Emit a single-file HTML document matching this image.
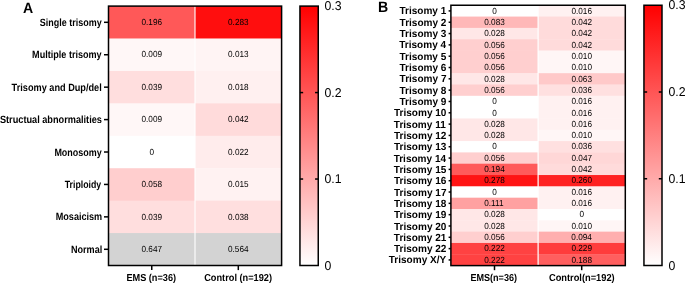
<!DOCTYPE html>
<html><head><meta charset="utf-8"><style>
html,body{margin:0;padding:0;background:#fff;}
body{width:685px;height:284px;overflow:hidden;}
svg{display:block;}
#w{will-change:transform;width:685px;height:284px;}
text{font-family:"Liberation Sans", sans-serif;fill:#000;text-rendering:geometricPrecision;}
.ax{stroke:#000;stroke-width:1.5;}
</style></head><body><div id="w">
<svg width="685" height="284" viewBox="0 0 685 284">
<text transform="translate(22.95,12.80) scale(0.940,1)" style="font-size:15px;font-weight:bold;">A</text>
<text transform="translate(378.06,12.40) scale(0.940,1)" style="font-size:15px;font-weight:bold;">B</text>
<rect x="108.50" y="6.10" width="86.50" height="32.82" fill="#ff5858"/>
<rect x="195.00" y="6.10" width="86.60" height="32.82" fill="#ff0e0e"/>
<rect x="108.50" y="38.52" width="86.50" height="32.82" fill="#fff7f7"/>
<rect x="195.00" y="38.52" width="86.60" height="32.82" fill="#fff4f4"/>
<rect x="108.50" y="70.95" width="86.50" height="32.82" fill="#ffdede"/>
<rect x="195.00" y="70.95" width="86.60" height="32.82" fill="#fff0f0"/>
<rect x="108.50" y="103.37" width="86.50" height="32.82" fill="#fff7f7"/>
<rect x="195.00" y="103.37" width="86.60" height="32.82" fill="#ffdbdb"/>
<rect x="108.50" y="135.80" width="86.50" height="32.82" fill="#ffffff"/>
<rect x="195.00" y="135.80" width="86.60" height="32.82" fill="#ffecec"/>
<rect x="108.50" y="168.22" width="86.50" height="32.82" fill="#ffcece"/>
<rect x="195.00" y="168.22" width="86.60" height="32.82" fill="#fff2f2"/>
<rect x="108.50" y="200.65" width="86.50" height="32.82" fill="#ffdede"/>
<rect x="195.00" y="200.65" width="86.60" height="32.82" fill="#ffdfdf"/>
<rect x="108.50" y="233.07" width="86.50" height="32.82" fill="#d3d3d3"/>
<rect x="195.00" y="233.07" width="86.60" height="32.82" fill="#d3d3d3"/>
<rect x="194.45" y="6.10" width="1.10" height="259.40" fill="#fff"/>
<text transform="translate(141.48,25.06) scale(0.935,1)" style="font-size:8.8px;fill:#000;">0.196</text>
<text transform="translate(228.03,25.06) scale(0.935,1)" style="font-size:8.8px;fill:#000;">0.283</text>
<text transform="translate(39.84,25.81) scale(0.854,1)" style="font-size:10.5px;font-weight:bold;">Single trisomy</text>
<line x1="104.00" x2="108.50" y1="22.31" y2="22.31" class="ax"/>
<text transform="translate(141.49,57.49) scale(0.935,1)" style="font-size:8.8px;fill:#000;">0.009</text>
<text transform="translate(228.03,57.49) scale(0.935,1)" style="font-size:8.8px;fill:#000;">0.013</text>
<text transform="translate(32.09,58.24) scale(0.864,1)" style="font-size:10.5px;font-weight:bold;">Multiple trisomy</text>
<line x1="104.00" x2="108.50" y1="54.74" y2="54.74" class="ax"/>
<text transform="translate(141.49,89.91) scale(0.935,1)" style="font-size:8.8px;fill:#000;">0.039</text>
<text transform="translate(228.02,89.91) scale(0.935,1)" style="font-size:8.8px;fill:#000;">0.018</text>
<text transform="translate(11.60,90.66) scale(0.873,1)" style="font-size:10.5px;font-weight:bold;">Trisomy and Dup/del</text>
<line x1="104.00" x2="108.50" y1="87.16" y2="87.16" class="ax"/>
<text transform="translate(141.49,122.34) scale(0.935,1)" style="font-size:8.8px;fill:#000;">0.009</text>
<text transform="translate(228.05,122.34) scale(0.935,1)" style="font-size:8.8px;fill:#000;">0.042</text>
<text transform="translate(-0.06,123.09) scale(0.874,1)" style="font-size:10.5px;font-weight:bold;">Structual abnormalities</text>
<line x1="104.00" x2="108.50" y1="119.59" y2="119.59" class="ax"/>
<text transform="translate(149.46,154.76) scale(0.935,1)" style="font-size:8.8px;fill:#000;">0</text>
<text transform="translate(228.05,154.76) scale(0.935,1)" style="font-size:8.8px;fill:#000;">0.022</text>
<text transform="translate(54.40,155.51) scale(0.853,1)" style="font-size:10.5px;font-weight:bold;">Monosomy</text>
<line x1="104.00" x2="108.50" y1="152.01" y2="152.01" class="ax"/>
<text transform="translate(141.47,187.19) scale(0.935,1)" style="font-size:8.8px;fill:#000;">0.058</text>
<text transform="translate(228.02,187.19) scale(0.935,1)" style="font-size:8.8px;fill:#000;">0.015</text>
<text transform="translate(64.70,187.94) scale(0.833,1)" style="font-size:10.5px;font-weight:bold;">Triploidy</text>
<line x1="104.00" x2="108.50" y1="184.44" y2="184.44" class="ax"/>
<text transform="translate(141.49,219.61) scale(0.935,1)" style="font-size:8.8px;fill:#000;">0.039</text>
<text transform="translate(228.02,219.61) scale(0.935,1)" style="font-size:8.8px;fill:#000;">0.038</text>
<text transform="translate(55.69,220.36) scale(0.866,1)" style="font-size:10.5px;font-weight:bold;">Mosaicism</text>
<line x1="104.00" x2="108.50" y1="216.86" y2="216.86" class="ax"/>
<text transform="translate(141.50,252.04) scale(0.935,1)" style="font-size:8.8px;fill:#000;">0.647</text>
<text transform="translate(227.96,252.04) scale(0.935,1)" style="font-size:8.8px;fill:#000;">0.564</text>
<text transform="translate(70.99,252.79) scale(0.864,1)" style="font-size:10.5px;font-weight:bold;">Normal</text>
<line x1="104.00" x2="108.50" y1="249.29" y2="249.29" class="ax"/>
<rect x="108.50" y="6.10" width="173.10" height="259.40" fill="none" class="ax"/>
<line x1="151.75" x2="151.75" y1="265.50" y2="270.10" class="ax"/>
<text transform="translate(126.39,280.90) scale(0.908,1)" style="font-size:10.1px;font-weight:bold;">EMS (n=36)</text>
<line x1="238.30" x2="238.30" y1="265.50" y2="270.10" class="ax"/>
<text transform="translate(204.22,280.90) scale(0.912,1)" style="font-size:10.1px;font-weight:bold;">Control (n=192)</text>
<rect x="450.90" y="5.25" width="87.20" height="11.72" fill="#ffffff"/>
<rect x="538.10" y="5.25" width="87.20" height="11.72" fill="#fff1f1"/>
<rect x="450.90" y="16.57" width="87.20" height="11.72" fill="#ffb8b8"/>
<rect x="538.10" y="16.57" width="87.20" height="11.72" fill="#ffdbdb"/>
<rect x="450.90" y="27.89" width="87.20" height="11.72" fill="#ffe7e7"/>
<rect x="538.10" y="27.89" width="87.20" height="11.72" fill="#ffdbdb"/>
<rect x="450.90" y="39.21" width="87.20" height="11.72" fill="#ffcfcf"/>
<rect x="538.10" y="39.21" width="87.20" height="11.72" fill="#ffdbdb"/>
<rect x="450.90" y="50.53" width="87.20" height="11.72" fill="#ffcfcf"/>
<rect x="538.10" y="50.53" width="87.20" height="11.72" fill="#fff6f6"/>
<rect x="450.90" y="61.85" width="87.20" height="11.72" fill="#ffcfcf"/>
<rect x="538.10" y="61.85" width="87.20" height="11.72" fill="#fff6f6"/>
<rect x="450.90" y="73.17" width="87.20" height="11.72" fill="#ffe7e7"/>
<rect x="538.10" y="73.17" width="87.20" height="11.72" fill="#ffc9c9"/>
<rect x="450.90" y="84.49" width="87.20" height="11.72" fill="#ffcfcf"/>
<rect x="538.10" y="84.49" width="87.20" height="11.72" fill="#ffe0e0"/>
<rect x="450.90" y="95.81" width="87.20" height="11.72" fill="#ffffff"/>
<rect x="538.10" y="95.81" width="87.20" height="11.72" fill="#fff1f1"/>
<rect x="450.90" y="107.13" width="87.20" height="11.72" fill="#ffffff"/>
<rect x="538.10" y="107.13" width="87.20" height="11.72" fill="#fff1f1"/>
<rect x="450.90" y="118.45" width="87.20" height="11.72" fill="#ffe7e7"/>
<rect x="538.10" y="118.45" width="87.20" height="11.72" fill="#fff1f1"/>
<rect x="450.90" y="129.77" width="87.20" height="11.72" fill="#ffe7e7"/>
<rect x="538.10" y="129.77" width="87.20" height="11.72" fill="#fff6f6"/>
<rect x="450.90" y="141.08" width="87.20" height="11.72" fill="#ffffff"/>
<rect x="538.10" y="141.08" width="87.20" height="11.72" fill="#ffe0e0"/>
<rect x="450.90" y="152.40" width="87.20" height="11.72" fill="#ffcfcf"/>
<rect x="538.10" y="152.40" width="87.20" height="11.72" fill="#ffd7d7"/>
<rect x="450.90" y="163.72" width="87.20" height="11.72" fill="#ff5a5a"/>
<rect x="538.10" y="163.72" width="87.20" height="11.72" fill="#ffdbdb"/>
<rect x="450.90" y="175.04" width="87.20" height="11.72" fill="#ff1313"/>
<rect x="538.10" y="175.04" width="87.20" height="11.72" fill="#ff2222"/>
<rect x="450.90" y="186.36" width="87.20" height="11.72" fill="#ffffff"/>
<rect x="538.10" y="186.36" width="87.20" height="11.72" fill="#fff1f1"/>
<rect x="450.90" y="197.68" width="87.20" height="11.72" fill="#ffa1a1"/>
<rect x="538.10" y="197.68" width="87.20" height="11.72" fill="#fff1f1"/>
<rect x="450.90" y="209.00" width="87.20" height="11.72" fill="#ffe7e7"/>
<rect x="538.10" y="209.00" width="87.20" height="11.72" fill="#ffffff"/>
<rect x="450.90" y="220.32" width="87.20" height="11.72" fill="#ffe7e7"/>
<rect x="538.10" y="220.32" width="87.20" height="11.72" fill="#fff6f6"/>
<rect x="450.90" y="231.64" width="87.20" height="11.72" fill="#ffcfcf"/>
<rect x="538.10" y="231.64" width="87.20" height="11.72" fill="#ffafaf"/>
<rect x="450.90" y="242.96" width="87.20" height="11.72" fill="#ff4242"/>
<rect x="538.10" y="242.96" width="87.20" height="11.72" fill="#ff3c3c"/>
<rect x="450.90" y="254.28" width="87.20" height="11.72" fill="#ff4242"/>
<rect x="538.10" y="254.28" width="87.20" height="11.72" fill="#ff5f5f"/>
<rect x="537.50" y="5.25" width="1.20" height="260.35" fill="#fff"/>
<text transform="translate(492.21,13.66) scale(0.935,1)" style="font-size:8.8px;fill:#000;">0</text>
<text transform="translate(571.43,13.66) scale(0.935,1)" style="font-size:8.8px;fill:#000;">0.016</text>
<text transform="translate(399.44,14.46) scale(0.975,1)" style="font-size:10.3px;font-weight:bold;">Trisomy 1</text>
<line x1="448.60" x2="450.90" y1="10.91" y2="10.91" class="ax"/>
<text transform="translate(484.23,24.98) scale(0.935,1)" style="font-size:8.8px;fill:#000;">0.083</text>
<text transform="translate(571.45,24.98) scale(0.935,1)" style="font-size:8.8px;fill:#000;">0.042</text>
<text transform="translate(399.56,25.78) scale(0.975,1)" style="font-size:10.3px;font-weight:bold;">Trisomy 2</text>
<line x1="448.60" x2="450.90" y1="22.23" y2="22.23" class="ax"/>
<text transform="translate(484.22,36.30) scale(0.935,1)" style="font-size:8.8px;fill:#000;">0.028</text>
<text transform="translate(571.45,36.30) scale(0.935,1)" style="font-size:8.8px;fill:#000;">0.042</text>
<text transform="translate(399.52,37.10) scale(0.975,1)" style="font-size:10.3px;font-weight:bold;">Trisomy 3</text>
<line x1="448.60" x2="450.90" y1="33.55" y2="33.55" class="ax"/>
<text transform="translate(484.23,47.62) scale(0.935,1)" style="font-size:8.8px;fill:#000;">0.056</text>
<text transform="translate(571.45,47.62) scale(0.935,1)" style="font-size:8.8px;fill:#000;">0.042</text>
<text transform="translate(399.21,48.42) scale(0.975,1)" style="font-size:10.3px;font-weight:bold;">Trisomy 4</text>
<line x1="448.60" x2="450.90" y1="44.87" y2="44.87" class="ax"/>
<text transform="translate(484.23,58.94) scale(0.935,1)" style="font-size:8.8px;fill:#000;">0.056</text>
<text transform="translate(571.40,58.94) scale(0.935,1)" style="font-size:8.8px;fill:#000;">0.010</text>
<text transform="translate(399.44,59.74) scale(0.975,1)" style="font-size:10.3px;font-weight:bold;">Trisomy 5</text>
<line x1="448.60" x2="450.90" y1="56.19" y2="56.19" class="ax"/>
<text transform="translate(484.23,70.26) scale(0.935,1)" style="font-size:8.8px;fill:#000;">0.056</text>
<text transform="translate(571.40,70.26) scale(0.935,1)" style="font-size:8.8px;fill:#000;">0.010</text>
<text transform="translate(399.52,71.06) scale(0.975,1)" style="font-size:10.3px;font-weight:bold;">Trisomy 6</text>
<line x1="448.60" x2="450.90" y1="67.51" y2="67.51" class="ax"/>
<text transform="translate(484.22,81.58) scale(0.935,1)" style="font-size:8.8px;fill:#000;">0.028</text>
<text transform="translate(571.43,81.58) scale(0.935,1)" style="font-size:8.8px;fill:#000;">0.063</text>
<text transform="translate(399.60,82.38) scale(0.975,1)" style="font-size:10.3px;font-weight:bold;">Trisomy 7</text>
<line x1="448.60" x2="450.90" y1="78.83" y2="78.83" class="ax"/>
<text transform="translate(484.23,92.90) scale(0.935,1)" style="font-size:8.8px;fill:#000;">0.056</text>
<text transform="translate(571.43,92.90) scale(0.935,1)" style="font-size:8.8px;fill:#000;">0.036</text>
<text transform="translate(399.47,93.70) scale(0.975,1)" style="font-size:10.3px;font-weight:bold;">Trisomy 8</text>
<line x1="448.60" x2="450.90" y1="90.15" y2="90.15" class="ax"/>
<text transform="translate(492.21,104.22) scale(0.935,1)" style="font-size:8.8px;fill:#000;">0</text>
<text transform="translate(571.43,104.22) scale(0.935,1)" style="font-size:8.8px;fill:#000;">0.016</text>
<text transform="translate(399.53,105.02) scale(0.975,1)" style="font-size:10.3px;font-weight:bold;">Trisomy 9</text>
<line x1="448.60" x2="450.90" y1="101.47" y2="101.47" class="ax"/>
<text transform="translate(492.21,115.54) scale(0.935,1)" style="font-size:8.8px;fill:#000;">0</text>
<text transform="translate(571.43,115.54) scale(0.935,1)" style="font-size:8.8px;fill:#000;">0.016</text>
<text transform="translate(393.98,116.34) scale(0.975,1)" style="font-size:10.3px;font-weight:bold;">Trisomy 10</text>
<line x1="448.60" x2="450.90" y1="112.79" y2="112.79" class="ax"/>
<text transform="translate(484.22,126.86) scale(0.935,1)" style="font-size:8.8px;fill:#000;">0.028</text>
<text transform="translate(571.43,126.86) scale(0.935,1)" style="font-size:8.8px;fill:#000;">0.016</text>
<text transform="translate(393.85,127.66) scale(0.975,1)" style="font-size:10.3px;font-weight:bold;">Trisomy 11</text>
<line x1="448.60" x2="450.90" y1="124.11" y2="124.11" class="ax"/>
<text transform="translate(484.22,138.18) scale(0.935,1)" style="font-size:8.8px;fill:#000;">0.028</text>
<text transform="translate(571.40,138.18) scale(0.935,1)" style="font-size:8.8px;fill:#000;">0.010</text>
<text transform="translate(393.97,138.98) scale(0.975,1)" style="font-size:10.3px;font-weight:bold;">Trisomy 12</text>
<line x1="448.60" x2="450.90" y1="135.43" y2="135.43" class="ax"/>
<text transform="translate(492.21,149.49) scale(0.935,1)" style="font-size:8.8px;fill:#000;">0</text>
<text transform="translate(571.43,149.49) scale(0.935,1)" style="font-size:8.8px;fill:#000;">0.036</text>
<text transform="translate(393.94,150.29) scale(0.975,1)" style="font-size:10.3px;font-weight:bold;">Trisomy 13</text>
<line x1="448.60" x2="450.90" y1="146.74" y2="146.74" class="ax"/>
<text transform="translate(484.23,160.81) scale(0.935,1)" style="font-size:8.8px;fill:#000;">0.056</text>
<text transform="translate(571.45,160.81) scale(0.935,1)" style="font-size:8.8px;fill:#000;">0.047</text>
<text transform="translate(393.63,161.61) scale(0.975,1)" style="font-size:10.3px;font-weight:bold;">Trisomy 14</text>
<line x1="448.60" x2="450.90" y1="158.06" y2="158.06" class="ax"/>
<text transform="translate(484.16,172.13) scale(0.935,1)" style="font-size:8.8px;fill:#000;">0.194</text>
<text transform="translate(571.45,172.13) scale(0.935,1)" style="font-size:8.8px;fill:#000;">0.042</text>
<text transform="translate(393.85,172.93) scale(0.975,1)" style="font-size:10.3px;font-weight:bold;">Trisomy 15</text>
<line x1="448.60" x2="450.90" y1="169.38" y2="169.38" class="ax"/>
<text transform="translate(484.22,183.45) scale(0.935,1)" style="font-size:8.8px;fill:#000;">0.278</text>
<text transform="translate(571.40,183.45) scale(0.935,1)" style="font-size:8.8px;fill:#000;">0.260</text>
<text transform="translate(393.94,184.25) scale(0.975,1)" style="font-size:10.3px;font-weight:bold;">Trisomy 16</text>
<line x1="448.60" x2="450.90" y1="180.70" y2="180.70" class="ax"/>
<text transform="translate(492.21,194.77) scale(0.935,1)" style="font-size:8.8px;fill:#000;">0</text>
<text transform="translate(571.43,194.77) scale(0.935,1)" style="font-size:8.8px;fill:#000;">0.016</text>
<text transform="translate(394.01,195.57) scale(0.975,1)" style="font-size:10.3px;font-weight:bold;">Trisomy 17</text>
<line x1="448.60" x2="450.90" y1="192.02" y2="192.02" class="ax"/>
<text transform="translate(484.25,206.09) scale(0.935,1)" style="font-size:8.8px;fill:#000;">0.111</text>
<text transform="translate(571.43,206.09) scale(0.935,1)" style="font-size:8.8px;fill:#000;">0.016</text>
<text transform="translate(393.88,206.89) scale(0.975,1)" style="font-size:10.3px;font-weight:bold;">Trisomy 18</text>
<line x1="448.60" x2="450.90" y1="203.34" y2="203.34" class="ax"/>
<text transform="translate(484.22,217.41) scale(0.935,1)" style="font-size:8.8px;fill:#000;">0.028</text>
<text transform="translate(579.41,217.41) scale(0.935,1)" style="font-size:8.8px;fill:#000;">0</text>
<text transform="translate(393.95,218.21) scale(0.975,1)" style="font-size:10.3px;font-weight:bold;">Trisomy 19</text>
<line x1="448.60" x2="450.90" y1="214.66" y2="214.66" class="ax"/>
<text transform="translate(484.22,228.73) scale(0.935,1)" style="font-size:8.8px;fill:#000;">0.028</text>
<text transform="translate(571.40,228.73) scale(0.935,1)" style="font-size:8.8px;fill:#000;">0.010</text>
<text transform="translate(393.98,229.53) scale(0.975,1)" style="font-size:10.3px;font-weight:bold;">Trisomy 20</text>
<line x1="448.60" x2="450.90" y1="225.98" y2="225.98" class="ax"/>
<text transform="translate(484.23,240.05) scale(0.935,1)" style="font-size:8.8px;fill:#000;">0.056</text>
<text transform="translate(571.36,240.05) scale(0.935,1)" style="font-size:8.8px;fill:#000;">0.094</text>
<text transform="translate(393.85,240.85) scale(0.975,1)" style="font-size:10.3px;font-weight:bold;">Trisomy 21</text>
<line x1="448.60" x2="450.90" y1="237.30" y2="237.30" class="ax"/>
<text transform="translate(484.25,251.37) scale(0.935,1)" style="font-size:8.8px;fill:#000;">0.222</text>
<text transform="translate(571.44,251.37) scale(0.935,1)" style="font-size:8.8px;fill:#000;">0.229</text>
<text transform="translate(393.97,252.17) scale(0.975,1)" style="font-size:10.3px;font-weight:bold;">Trisomy 22</text>
<line x1="448.60" x2="450.90" y1="248.62" y2="248.62" class="ax"/>
<text transform="translate(484.25,262.69) scale(0.935,1)" style="font-size:8.8px;fill:#000;">0.222</text>
<text transform="translate(571.42,262.69) scale(0.935,1)" style="font-size:8.8px;fill:#000;">0.188</text>
<text transform="translate(388.72,263.49) scale(0.975,1)" style="font-size:10.3px;font-weight:bold;">Trisomy X/Y</text>
<line x1="448.60" x2="450.90" y1="259.94" y2="259.94" class="ax"/>
<rect x="450.90" y="5.25" width="174.40" height="260.35" fill="none" class="ax"/>
<line x1="494.50" x2="494.50" y1="265.60" y2="270.20" class="ax"/>
<text transform="translate(470.44,281.00) scale(0.897,1)" style="font-size:10.1px;font-weight:bold;">EMS(n=36)</text>
<line x1="581.70" x2="581.70" y1="265.60" y2="270.20" class="ax"/>
<text transform="translate(548.97,281.00) scale(0.919,1)" style="font-size:10.1px;font-weight:bold;">Control(n=192)</text>
<linearGradient id="gA" x1="0" y1="1" x2="0" y2="0"><stop offset="0" stop-color="#fff"/><stop offset="1" stop-color="#f00"/></linearGradient>
<rect x="299.95" y="6.10" width="18.30" height="259.40" fill="url(#gA)" class="ax"/>
<text transform="translate(324.52,10.40) scale(0.960,1)" style="font-size:12.8px;">0.3</text>
<line x1="299.95" x2="303.15" y1="92.57" y2="92.57" class="ax"/>
<line x1="315.05" x2="318.25" y1="92.57" y2="92.57" class="ax"/>
<text transform="translate(324.52,96.87) scale(0.960,1)" style="font-size:12.8px;">0.2</text>
<line x1="299.95" x2="303.15" y1="179.03" y2="179.03" class="ax"/>
<line x1="315.05" x2="318.25" y1="179.03" y2="179.03" class="ax"/>
<text transform="translate(324.52,183.33) scale(0.960,1)" style="font-size:12.8px;">0.1</text>
<text transform="translate(324.52,269.80) scale(0.960,1)" style="font-size:12.8px;">0</text>
<linearGradient id="gB" x1="0" y1="1" x2="0" y2="0"><stop offset="0" stop-color="#fff"/><stop offset="1" stop-color="#f00"/></linearGradient>
<rect x="643.95" y="5.25" width="18.05" height="260.25" fill="url(#gB)" class="ax"/>
<text transform="translate(668.52,9.35) scale(0.960,1)" style="font-size:12.8px;">0.3</text>
<line x1="643.95" x2="647.15" y1="92.00" y2="92.00" class="ax"/>
<line x1="658.80" x2="662.00" y1="92.00" y2="92.00" class="ax"/>
<text transform="translate(668.52,96.10) scale(0.960,1)" style="font-size:12.8px;">0.2</text>
<line x1="643.95" x2="647.15" y1="178.75" y2="178.75" class="ax"/>
<line x1="658.80" x2="662.00" y1="178.75" y2="178.75" class="ax"/>
<text transform="translate(668.52,182.85) scale(0.960,1)" style="font-size:12.8px;">0.1</text>
<text transform="translate(668.52,269.60) scale(0.960,1)" style="font-size:12.8px;">0</text>
</svg>
</div></body></html>
